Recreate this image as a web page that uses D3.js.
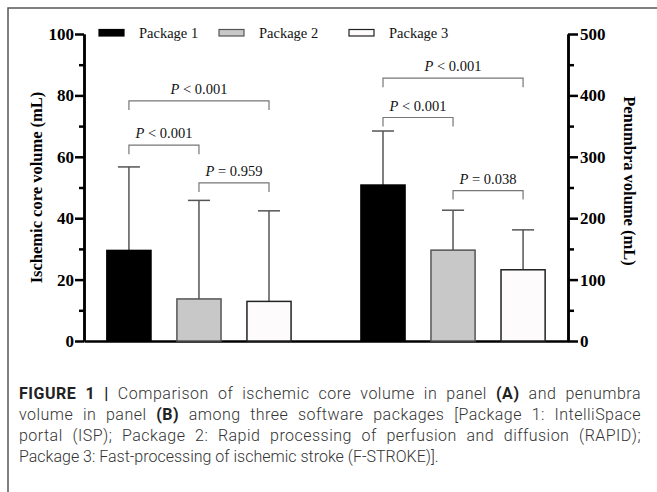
<!DOCTYPE html>
<html lang="en">
<head>
    <meta charset="UTF-8">
    <title>Figure 1 - ischemic core and penumbra volume</title>
    <script src="https://d3js.org/d3.v7.min.js"></script>
    <style>
        body { margin: 0; background: #fff; }
        svg { display: block; }
        .serif { font-family: 'Liberation Serif', 'Times New Roman', serif; }
        .caption { font-family: Roboto, 'Liberation Sans', sans-serif; fill: #333; }
    </style>
</head>
<body>
    <div id="chart"></div>

    <script>
        // data
        const packages = ["Package 1", "Package 2", "Package 3"];
        const coreMean = [29.5, 13.7, 12.9];
        const coreSD = [27.2, 32.1, 29.5];
        const penMean = [254, 148, 116];
        const penSD = [88, 65, 65];

        const coreTicks = [0, 20, 40, 60, 80, 100];
        const penTicks = [0, 100, 200, 300, 400, 500];

        // significance brackets: from package a to package b, at height y (axis units)
        const coreComparisons = [
            { a: 0, b: 2, y: 78.2, op: "<", p: "0.001" },
            { a: 0, b: 1, y: 63.8, op: "<", p: "0.001" },
            { a: 1, b: 2, y: 51.5, op: "=", p: "0.959" }
        ];
        const penComparisons = [
            { a: 0, b: 2, y: 428, op: "<", p: "0.001" },
            { a: 0, b: 1, y: 364, op: "<", p: "0.001" },
            { a: 1, b: 2, y: 245, op: "=", p: "0.038" }
        ];

        const captionLines = [
            [["FIGURE 1 | ", true], ["Comparison of ischemic core volume in panel ", false], ["(A)", true], [" and penumbra", false]],
            [["volume in panel ", false], ["(B)", true], [" among three software packages [Package 1: IntelliSpace", false]],
            [["portal (ISP); Package 2: Rapid processing of perfusion and diffusion (RAPID);", false]],
            [["Package 3: Fast-processing of ischemic stroke (F-STROKE)].", false]]
        ];

        const fills = ["#000000", "#c8c8c8", "#fdfbfb"];
        const strokes = ["#000000", "#555555", "#222222"];

        const width = 657, height = 492;
        const svg = d3.select("#chart").append("svg")
            .attr("width", width)
            .attr("height", height);

        // frame (top + left only)
        svg.append("path")
            .attr("d", "M8,492V8H657")
            .attr("fill", "none")
            .attr("stroke", "#555")
            .attr("stroke-width", 1.5);

        // scales
        const x0 = d3.scaleBand().domain(["core", "pen"]).range([84, 568])
            .paddingInner(0.173).paddingOuter(0.039);
        const x1 = d3.scaleBand().domain(packages).range([0, x0.bandwidth()])
            .paddingInner(0.37).paddingOuter(0.185);
        const yL = d3.scaleLinear().domain([0, 100]).range([341, 34]);
        const yR = d3.scaleLinear().domain([0, 500]).range([341, 34]);

        // axes
        const axisStyle = g => {
            g.select(".domain").attr("stroke", "#000").attr("stroke-width", 2.5);
            g.selectAll(".tick line").attr("stroke", "#000").attr("stroke-width", 2.5);
            g.selectAll(".tick text").attr("class", "serif")
                .attr("font-size", 17).attr("font-weight", "bold").attr("fill", "#000");
        };

        svg.append("g").attr("transform", "translate(84,0)")
            .call(d3.axisLeft(yL).tickValues(d3.range(10, 100, 20)).tickSize(5).tickSizeOuter(0).tickFormat(""))
            .call(axisStyle);
        svg.append("g").attr("transform", "translate(84,0)")
            .call(d3.axisLeft(yL).tickValues(coreTicks).tickSize(9).tickSizeOuter(0).tickPadding(1).tickFormat(d3.format("d")))
            .call(axisStyle);

        svg.append("g").attr("transform", "translate(568,0)")
            .call(d3.axisRight(yR).tickValues(d3.range(50, 500, 100)).tickSize(6).tickSizeOuter(0).tickFormat(""))
            .call(axisStyle);
        svg.append("g").attr("transform", "translate(568,0)")
            .call(d3.axisRight(yR).tickValues(penTicks).tickSize(10).tickSizeOuter(0).tickPadding(2).tickFormat(d3.format("d")))
            .call(axisStyle);

        svg.append("g").attr("transform", `translate(0,${yL(0)})`)
            .call(d3.axisBottom(x0).tickSize(0).tickSizeOuter(0).tickFormat(""))
            .call(axisStyle);

        // axis titles
        svg.append("text").attr("class", "serif")
            .attr("transform", `translate(42,${(yL(0) + yL(100)) / 2}) rotate(-90)`)
            .attr("text-anchor", "middle")
            .attr("font-size", 16.5).attr("font-weight", "bold")
            .text("Ischemic core volume (mL)");
        svg.append("text").attr("class", "serif")
            .attr("transform", `translate(624,181) rotate(90)`)
            .attr("text-anchor", "middle")
            .attr("font-size", 16.5).attr("font-weight", "bold")
            .text("Penumbra volume (mL)");

        // bars, error bars, brackets for each panel
        function drawPanel(key, means, sds, y, comps) {
            const g = svg.append("g").attr("transform", `translate(${x0(key)},0)`);
            const bw = x1.bandwidth();

            // error bars (up only), drawn first so the bar sits over the stem
            means.forEach((m, i) => {
                const cx = x1(packages[i]) + bw / 2;
                g.append("line")
                    .attr("x1", cx).attr("x2", cx)
                    .attr("y1", y(m)).attr("y2", y(m + sds[i]))
                    .attr("stroke", "#555").attr("stroke-width", 1.5);
                g.append("line")
                    .attr("x1", cx - bw / 4).attr("x2", cx + bw / 4)
                    .attr("y1", y(m + sds[i])).attr("y2", y(m + sds[i]))
                    .attr("stroke", "#555").attr("stroke-width", 1.5);
            });

            g.selectAll("rect.bar")
                .data(means)
                .join("rect")
                .attr("class", "bar")
                .attr("x", (d, i) => x1(packages[i]))
                .attr("y", d => y(d))
                .attr("width", bw)
                .attr("height", d => y(0) - y(d))
                .attr("fill", (d, i) => fills[i])
                .attr("stroke", (d, i) => strokes[i])
                .attr("stroke-width", 1.5);

            comps.forEach(c => {
                const xa = x1(packages[c.a]) + bw / 2;
                const xb = x1(packages[c.b]) + bw / 2;
                const yy = y(c.y);
                g.append("path")
                    .attr("d", `M${xa},${yy + 9}V${yy}H${xb}V${yy + 9}`)
                    .attr("fill", "none")
                    .attr("stroke", "#777")
                    .attr("stroke-width", 1.2);
                const t = g.append("text").attr("class", "serif")
                    .attr("x", (xa + xb) / 2)
                    .attr("y", yy - 7)
                    .attr("text-anchor", "middle")
                    .attr("font-size", 14.5)
                    .attr("fill", "#111");
                t.append("tspan").attr("font-style", "italic").text("P");
                t.append("tspan").text(` ${c.op} ${c.p}`);
            });
        }

        drawPanel("core", coreMean, coreSD, yL, coreComparisons);
        drawPanel("pen", penMean, penSD, yR, penComparisons);

        // legend
        const legendX = [99, 219, 349];
        const legend = svg.append("g");
        packages.forEach((p, i) => {
            legend.append("rect")
                .attr("x", legendX[i]).attr("y", 29.5)
                .attr("width", 25).attr("height", 6.5)
                .attr("fill", fills[i])
                .attr("stroke", strokes[i])
                .attr("stroke-width", 1.2);
            legend.append("text").attr("class", "serif")
                .attr("x", legendX[i] + 40).attr("y", 37.5)
                .attr("font-size", 14.5)
                .attr("fill", "#111")
                .text(p);
        });

        // caption, justified except last line
        const lineTop = 399, lineGap = 21, capLeft = 19, capRight = 641;
        captionLines.forEach((parts, li) => {
            const t = svg.append("text")
                .attr("class", "caption")
                .attr("x", capLeft)
                .attr("y", lineTop + li * lineGap)
                .attr("font-size", 16)
                .attr("font-weight", 300);
            parts.forEach(([s, bold]) => {
                t.append("tspan")
                    .attr("font-weight", bold ? 700 : 300)
                    .attr("fill", bold ? "#222" : "#333")
                    .text(s);
            });
            if (li < captionLines.length - 1) {
                const str = parts.map(d => d[0]).join("");
                const extra = capRight - capLeft - t.node().getComputedTextLength();
                const spaces = str.split(" ").length - 1;
                // share the slack between letters and words
                t.attr("letter-spacing", (extra * 0.4) / str.length)
                    .attr("word-spacing", (extra * 0.6) / spaces);
            }
        });
    </script>
</body>
</html>
